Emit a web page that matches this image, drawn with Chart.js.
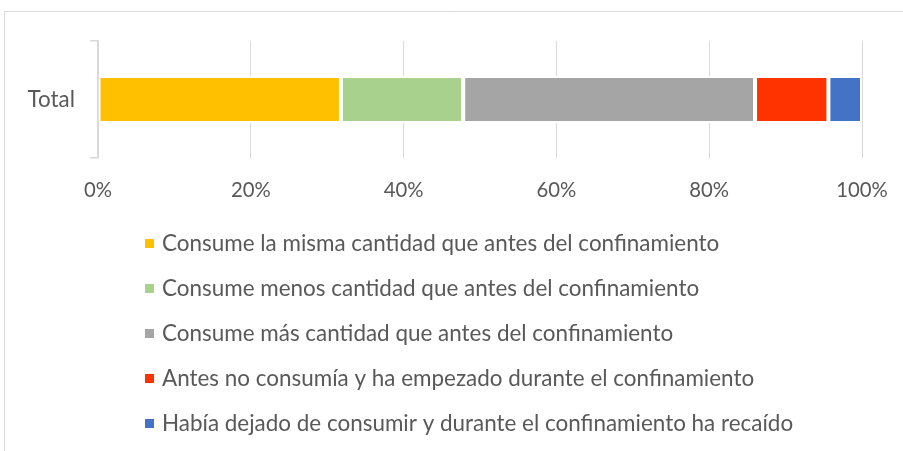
<!DOCTYPE html>
<html>
<head>
<meta charset="utf-8">
<script src="https://cdn.jsdelivr.net/npm/chart.js@4/dist/chart.umd.min.js"></script>
<style>
  html, body { margin: 0; padding: 0; background: #ffffff; }
  #wrap { position: relative; width: 903px; height: 451px; overflow: hidden; }
  canvas { display: block; }
</style>
</head>
<body>
<div id="wrap"><canvas id="c" width="903" height="451"></canvas></div>
<script>
// ---- data ----
const categories = ['Total'];
const seriesLabels = [
  'Consume la misma cantidad que antes del confinamiento',
  'Consume menos cantidad que antes del confinamiento',
  'Consume más cantidad que antes del confinamiento',
  'Antes no consumía y ha empezado durante el confinamiento',
  'Había dejado de consumir y durante el confinamiento ha recaído'
];
const seriesValues = [31.8, 16.0, 38.2, 9.6, 4.4];
const seriesColors = ['#FFC000', '#A9D18E', '#A5A5A5', '#FF3300', '#4472C4'];
const xTickValues = [0, 20, 40, 60, 80, 100];
const xTickLabels = ['0%', '20%', '40%', '60%', '80%', '100%'];

// ---- styling helpers ----
const FAMILY = 'Lato, "Open Sans", sans-serif';
const TEXT = '#595959';
const GRID = '#D9D9D9';
const mctx = document.createElement('canvas').getContext('2d');
function fitSize(text, target) {
  mctx.font = '100px ' + FAMILY;
  return 100 * target / mctx.measureText(text).width;
}
const tickSize = fitSize('100%', 51.6);
const catSize = fitSize('Total', 47.5);
const legendSize = (fitSize(seriesLabels[0], 558) + fitSize(seriesLabels[4], 631)) / 2;

const datasets = seriesLabels.map((lab, i) => ({
  label: lab,
  data: [seriesValues[i]],
  backgroundColor: seriesColors[i],
  borderColor: '#FFFFFF',
  borderWidth: 2,
  borderSkipped: false,
  barPercentage: 0.4,
  categoryPercentage: 1.0
}));

const decorPlugin = {
  id: 'decor',
  beforeDraw(chart) {
    const ctx = chart.ctx;
    ctx.save();
    ctx.strokeStyle = GRID;
    ctx.lineWidth = 1;
    ctx.beginPath();
    ctx.moveTo(4.5, 451);
    ctx.lineTo(4.5, 11.5);
    ctx.lineTo(903, 11.5);
    ctx.stroke();
    ctx.restore();
  },
  afterDraw(chart) {
    const ctx = chart.ctx;
    ctx.save();
    ctx.font = legendSize.toFixed(2) + 'px ' + FAMILY;
    ctx.textBaseline = 'alphabetic';
    ctx.textAlign = 'left';
    chart.data.datasets.forEach((ds, i) => {
      const cy = 243.5 + 45 * i;
      ctx.fillStyle = ds.backgroundColor;
      ctx.fillRect(145, cy - 4.5, 9, 9);
      ctx.fillStyle = TEXT;
      ctx.fillText(ds.label, 162, cy + 7);
    });
    ctx.restore();
  }
};

new Chart(document.getElementById('c'), {
  type: 'bar',
  data: { labels: categories, datasets: datasets },
  options: {
    indexAxis: 'y',
    responsive: false,
    animation: false,
    devicePixelRatio: 1,
    layout: { padding: { top: 41, right: 41, bottom: 253, left: 0 } },
    plugins: { legend: { display: false }, tooltip: { enabled: false } },
    scales: {
      x: {
        stacked: true,
        min: 0,
        max: 100,
        afterBuildTicks(scale) { scale.ticks = xTickValues.map(v => ({ value: v })); },
        afterFit(scale) {
          scale.height = 40;
          scale.paddingLeft = 0;
          scale.paddingRight = 0;
        },
        ticks: {
          callback: (v, idx) => xTickLabels[idx],
          color: TEXT,
          font: { family: FAMILY, size: tickSize },
          padding: 20,
          maxRotation: 0,
          autoSkip: false
        },
        grid: { color: GRID, lineWidth: 1, drawTicks: false },
        border: { display: false }
      },
      y: {
        stacked: true,
        z: 1,
        afterFit(scale) { scale.width = 98; },
        ticks: {
          color: TEXT,
          font: { family: FAMILY, size: catSize },
          padding: 15
        },
        grid: {
          display: true,
          offset: true,
          drawOnChartArea: false,
          drawTicks: true,
          tickLength: 8,
          color: GRID,
          lineWidth: 1.5
        },
        border: { display: true, color: GRID, width: 1.5 }
      }
    }
  },
  plugins: [decorPlugin]
});
</script>
</body>
</html>
